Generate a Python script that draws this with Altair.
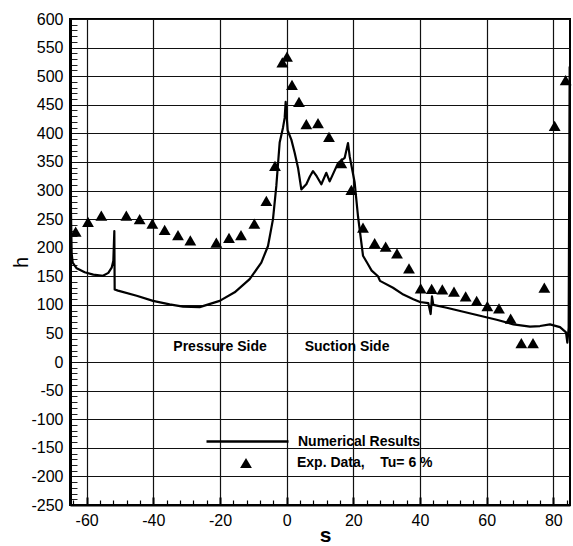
import altair as alt
import pandas as pd

# Experimental data (triangles)
exp_s = [-63.3, -59.6, -55.6, -48.1, -44.1, -40.3, -36.6, -32.6, -28.9, -21.1,
         -17.3, -13.7, -9.7, -6.1, -3.5, -1.3, 0.1, 1.6, 3.7, 5.9,
         9.4, 12.7, 16.4, 19.4, 22.9, 26.4, 29.7, 33.1, 36.7, 40.2,
         43.5, 46.7, 50.2, 53.7, 57.0, 60.2, 63.7, 67.2, 70.4, 73.9,
         77.3, 80.4, 83.7]
exp_h = [228, 245, 256, 256, 250, 242, 231, 222, 213, 209,
         217, 222, 242, 282, 343, 524, 534, 485, 455, 416,
         418, 394, 348, 301, 235, 208, 202, 190, 164, 129,
         128, 127, 123, 115, 107, 98, 94, 76, 33, 33,
         130, 413, 493]

# Numerical results (line)
num_s = [-64.8, -64.7, -64.5, -64.2, -63.0, -60.6, -58.0, -55.1, -53.5, -52.5,
         -52.0, -51.7, -51.6, -50.6, -45.0, -40.1, -35.1, -31.1, -26.1, -20.1,
         -15.6, -11.1, -7.6, -5.6, -4.1, -3.1, -2.1, -1.1, -0.6, -0.3,
         0.3, 1.4, 2.4, 3.4, 4.4, 5.9, 7.0, 7.9, 9.0, 10.4,
         11.9, 12.9, 14.0, 15.4, 17.4, 18.4, 18.9, 20.4, 21.4, 22.9,
         24.4, 25.5, 27.4, 28.0, 31.9, 35.0, 38.0, 40.0, 42.5, 43.2,
         43.6, 44.0, 48.0, 53.0, 58.0, 63.0, 68.0, 73.0, 76.0, 79.0,
         82.0, 83.8, 84.2, 84.6, 84.9]
num_h = [337, 260, 190, 174, 164, 157, 153, 151, 156, 165,
         177, 229, 127, 125, 116, 107, 101, 97, 96, 107,
         122, 145, 174, 203, 250, 308, 384, 410, 427, 455,
         405, 389, 366, 340, 302, 311, 325, 334, 325, 311,
         331, 316, 330, 348, 357, 383, 360, 314, 255, 186,
         171, 160, 150, 142, 130, 118, 110, 105, 103, 84,
         115, 100, 95, 88, 81, 74, 66, 62, 63, 66,
         61, 52, 34, 60, 517]

note_text = ["Pressure Side", "Suction Side"]
note_s = [-34.0, 5.4]
note_h = [26, 26]

x_major = list(range(-60, 81, 20))
x_minor = [v for v in range(-64, 85, 4) if v % 20 != 0]
y_major = list(range(-250, 601, 50))
y_minor = [v for v in range(-240, 600, 10) if v % 50 != 0]

NB = "\u00a0"
num_df = pd.DataFrame({"s": num_s, "h": num_h, "order": list(range(len(num_s))),
                       "series": "Numerical Results"})
exp_df = pd.DataFrame({"s": exp_s, "h": exp_h,
                       "series": "Exp. Data," + NB * 4 + "Tu=" + NB + "6" + NB + "%"})
note_df = pd.DataFrame({"s": note_s, "h": note_h, "text": note_text})

FONT = "Liberation Sans"
xs = alt.Scale(domain=[-65, 85], nice=False, zero=False)
ys = alt.Scale(domain=[-250, 600], nice=False, zero=False)
PLAIN = "datum.value + ''"

line = alt.Chart(num_df).mark_line(strokeWidth=2.2, strokeJoin="round").encode(
    x=alt.X("s:Q", scale=xs, axis=alt.Axis(
        orient="bottom",
        values=x_major, grid=True, gridColor="#111", gridWidth=1.2, ticks=False,
        labelFontSize=16, labelPadding=7, labelFlush=False, labelColor="black",
        labelExpr=PLAIN,
        domainColor="black", domainWidth=2,
        title="s", titleFontSize=21, titleFontWeight="bold",
        titleX=255, titleY=36, titleBaseline="alphabetic", titleAlign="center")),
    y=alt.Y("h:Q", scale=ys, axis=alt.Axis(
        orient="left",
        values=y_major, grid=True, gridColor="#111", gridWidth=1.2, ticks=False,
        labelFontSize=16, labelPadding=7, labelFlush=False, labelColor="black",
        labelExpr=PLAIN,
        domainColor="black", domainWidth=3,
        title="h", titleFontSize=20, titleFontWeight="normal",
        titleAngle=270, titleX=-43, titleY=243,
        titleBaseline="alphabetic", titleAlign="center")),
    order="order:Q",
    stroke=alt.Stroke("series:N", scale=alt.Scale(range=["black"]), legend=alt.Legend(
        orient="none", legendX=135, legendY=380, title=None,
        symbolType="stroke", symbolSize=6724, symbolStrokeWidth=2.5,
        symbolStrokeColor="black", labelOffset=8,
        labelFont=FONT, labelFontSize=14, labelFontWeight="bold", labelColor="black",
        padding=0)),
)

points = alt.Chart(exp_df).mark_point(filled=True, size=140, color="black", opacity=1).encode(
    x=alt.X("s:Q", scale=xs, axis=None),
    y=alt.Y("h:Q", scale=ys, axis=None),
    shape=alt.Shape("series:N", scale=alt.Scale(range=["triangle-up"]), legend=alt.Legend(
        orient="none", legendX=169, legendY=437, title=None,
        symbolSize=140, symbolFillColor="black", symbolStrokeColor="black",
        symbolOpacity=1, labelOffset=44,
        labelFont=FONT, labelFontSize=14, labelFontWeight="bold", labelColor="black",
        padding=0)),
)

notes = alt.Chart(note_df).mark_text(
    align="left", baseline="middle", font=FONT, fontSize=14, fontWeight="bold", color="black"
).encode(
    x=alt.X("s:Q", scale=xs, axis=None),
    y=alt.Y("h:Q", scale=ys, axis=None),
    text="text:N",
)

def tick_layer(xvals=None, yvals=None, size=4, width=1.2):
    base = alt.Chart(exp_df).mark_point(opacity=0)
    if xvals is not None:
        return base.encode(
            x=alt.X("s:Q", scale=xs, axis=alt.Axis(
                orient="bottom", offset=-size, tickSize=size, values=xvals,
                labels=False, domain=False, grid=False, title="",
                tickColor="black", tickWidth=width)),
            y=alt.Y("h:Q", scale=ys, axis=None),
        )
    return base.encode(
        x=alt.X("s:Q", scale=xs, axis=None),
        y=alt.Y("h:Q", scale=ys, axis=alt.Axis(
            orient="left", offset=-size, tickSize=size, values=yvals,
            labels=False, domain=False, grid=False, title="",
            tickColor="#222", tickWidth=width)),
    )

xminor = tick_layer(xvals=x_minor, size=5, width=1.2)
xmajor = tick_layer(xvals=x_major, size=8, width=2)
yminor = tick_layer(yvals=y_minor, size=7, width=1)

chart = alt.layer(xminor, xmajor, yminor, line, points, notes).resolve_axis(
    x="independent", y="independent"
).properties(
    width=500, height=486,
    padding={"left": 70, "top": 19, "right": 3, "bottom": 41},
    autosize="none",
).configure(
    font=FONT,
    background="white",
).configure_view(
    stroke="black", strokeWidth=2,
).configure_axis(
    labelFont=FONT, titleFont=FONT, titleColor="black",
)

chart.save("out.html", embed_options={"renderer": "svg", "actions": False})
